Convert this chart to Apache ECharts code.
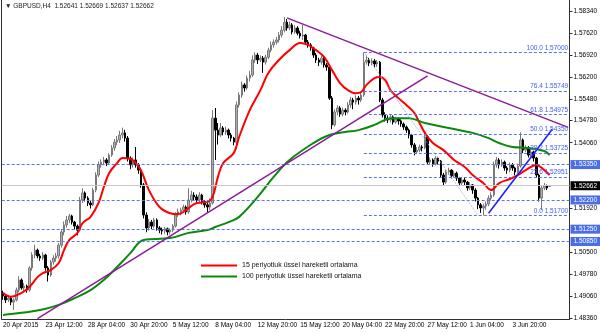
<!DOCTYPE html>
<html><head><meta charset="utf-8">
<script src="https://cdn.jsdelivr.net/npm/echarts@6/dist/echarts.min.js"></script>
<style>html,body{margin:0;padding:0;background:#fff}#c{width:600px;height:333px}</style>
</head><body><div id="c"></div>
<script>
// [open, close, low, high] per H4 bar, from 20 Apr 2015 20:00
const ohlc = [
[1.4915,1.4908,1.4895,1.4925],[1.4908,1.4895,1.4885,1.4912],[1.4895,1.4901,1.4888,1.4910],[1.4901,1.4888,1.4878,1.4905],
[1.4888,1.4895,1.4862,1.4900],[1.4895,1.4927,1.4890,1.4935],[1.4927,1.4960,1.4920,1.4972],[1.4960,1.4934,1.4928,1.4965],
[1.4934,1.4940,1.4925,1.4950],[1.4940,1.4927,1.4918,1.4945],[1.4927,1.4999,1.4922,1.5005],[1.4999,1.5041,1.4990,1.5050],
[1.5041,1.5057,1.5030,1.5075],[1.5057,1.5038,1.5030,1.5062],[1.5038,1.5031,1.5022,1.5045],[1.5031,1.5041,1.5025,1.5050],
[1.5041,1.4999,1.4990,1.5045],[1.4999,1.4976,1.4955,1.5005],[1.4976,1.5018,1.4970,1.5025],[1.5018,1.5031,1.5010,1.5040],
[1.5031,1.5038,1.5020,1.5048],[1.5038,1.5073,1.5030,1.5080],[1.5073,1.5116,1.5065,1.5125],[1.5116,1.5139,1.5105,1.5150],
[1.5139,1.5155,1.5130,1.5168],[1.5155,1.5168,1.5145,1.5175],[1.5168,1.5148,1.5140,1.5172],[1.5148,1.5135,1.5125,1.5152],
[1.5135,1.5122,1.5105,1.5140],[1.5122,1.5220,1.5118,1.5230],[1.5220,1.5243,1.5210,1.5258],[1.5243,1.5226,1.5215,1.5248],
[1.5226,1.5210,1.5200,1.5232],[1.5210,1.5204,1.5192,1.5218],[1.5204,1.5252,1.5200,1.5260],[1.5252,1.5301,1.5245,1.5310],
[1.5301,1.5334,1.5295,1.5345],[1.5334,1.5343,1.5325,1.5352],[1.5343,1.5350,1.5333,1.5360],[1.5350,1.5340,1.5330,1.5356],
[1.5340,1.5366,1.5335,1.5372],[1.5366,1.5389,1.5360,1.5398],[1.5389,1.5408,1.5380,1.5418],[1.5408,1.5415,1.5398,1.5428],
[1.5415,1.5431,1.5405,1.5445],[1.5431,1.5438,1.5420,1.5455],[1.5438,1.5421,1.5410,1.5448],[1.5421,1.5356,1.5345,1.5428],
[1.5356,1.5334,1.5320,1.5362],[1.5334,1.5350,1.5325,1.5358],[1.5350,1.5334,1.5325,1.5392],[1.5334,1.5317,1.5305,1.5340],
[1.5317,1.5269,1.5260,1.5322],[1.5269,1.5171,1.5160,1.5275],[1.5171,1.5129,1.5115,1.5180],[1.5129,1.5148,1.5120,1.5158],
[1.5148,1.5135,1.5125,1.5155],[1.5135,1.5155,1.5128,1.5162],[1.5155,1.5129,1.5120,1.5160],[1.5129,1.5122,1.5112,1.5135],
[1.5122,1.5119,1.5108,1.5130],[1.5119,1.5126,1.5110,1.5132],[1.5126,1.5116,1.5105,1.5130],[1.5116,1.5122,1.5108,1.5128],
[1.5122,1.5135,1.5115,1.5142],[1.5135,1.5171,1.5130,1.5180],[1.5171,1.5181,1.5165,1.5192],[1.5181,1.5187,1.5170,1.5195],
[1.5187,1.5197,1.5180,1.5205],[1.5197,1.5181,1.5172,1.5202],[1.5181,1.5220,1.5175,1.5258],[1.5220,1.5236,1.5212,1.5250],
[1.5236,1.5230,1.5218,1.5245],[1.5230,1.5220,1.5210,1.5238],[1.5220,1.5236,1.5212,1.5245],[1.5236,1.5214,1.5205,1.5240],
[1.5214,1.5204,1.5195,1.5220],[1.5204,1.5197,1.5180,1.5210],[1.5197,1.5210,1.5188,1.5225],[1.5210,1.5486,1.5205,1.5512],
[1.5486,1.5447,1.5350,1.5519],[1.5447,1.5431,1.5400,1.5470],[1.5431,1.5454,1.5425,1.5470],[1.5454,1.5441,1.5430,1.5460],
[1.5441,1.5447,1.5432,1.5458],[1.5447,1.5431,1.5420,1.5452],[1.5431,1.5421,1.5410,1.5438],[1.5421,1.5408,1.5398,1.5425],
[1.5408,1.5529,1.5400,1.5540],[1.5529,1.5561,1.5520,1.5570],[1.5561,1.5594,1.5552,1.5605],[1.5594,1.5584,1.5572,1.5600],
[1.5584,1.5616,1.5578,1.5625],[1.5616,1.5626,1.5605,1.5640],[1.5626,1.5675,1.5620,1.5690],[1.5675,1.5691,1.5665,1.5700],
[1.5691,1.5675,1.5662,1.5698],[1.5675,1.5681,1.5668,1.5690],[1.5681,1.5668,1.5633,1.5688],[1.5668,1.5684,1.5660,1.5692],
[1.5684,1.5707,1.5678,1.5715],[1.5707,1.5724,1.5700,1.5735],[1.5724,1.5733,1.5715,1.5742],[1.5733,1.5740,1.5725,1.5750],
[1.5740,1.5756,1.5732,1.5766],[1.5756,1.5772,1.5748,1.5785],[1.5772,1.5798,1.5765,1.5815],[1.5798,1.5779,1.5770,1.5808],
[1.5779,1.5789,1.5772,1.5800],[1.5789,1.5766,1.5758,1.5795],[1.5766,1.5779,1.5760,1.5788],[1.5779,1.5762,1.5755,1.5785],
[1.5762,1.5753,1.5745,1.5770],[1.5753,1.5756,1.5740,1.5789],[1.5756,1.5733,1.5725,1.5760],[1.5733,1.5724,1.5715,1.5740],
[1.5724,1.5714,1.5705,1.5730],[1.5714,1.5691,1.5682,1.5718],[1.5691,1.5675,1.5665,1.5698],[1.5675,1.5668,1.5655,1.5682],
[1.5668,1.5681,1.5660,1.5690],[1.5681,1.5659,1.5650,1.5686],[1.5659,1.5652,1.5640,1.5665],[1.5652,1.5551,1.5545,1.5658],
[1.5551,1.5464,1.5450,1.5558],[1.5464,1.5506,1.5458,1.5515],[1.5506,1.5519,1.5495,1.5528],[1.5519,1.5499,1.5490,1.5525],
[1.5499,1.5512,1.5492,1.5520],[1.5512,1.5506,1.5495,1.5518],[1.5506,1.5529,1.5500,1.5538],[1.5529,1.5545,1.5520,1.5555],
[1.5545,1.5538,1.5515,1.5552],[1.5538,1.5551,1.5530,1.5560],[1.5551,1.5545,1.5530,1.5558],[1.5545,1.5561,1.5538,1.5568],
[1.5561,1.5668,1.5555,1.5700],[1.5668,1.5675,1.5660,1.5690],[1.5675,1.5665,1.5655,1.5682],[1.5665,1.5672,1.5658,1.5680],
[1.5672,1.5662,1.5650,1.5678],[1.5662,1.5668,1.5652,1.5675],[1.5668,1.5545,1.5538,1.5672],[1.5545,1.5496,1.5488,1.5552],
[1.5496,1.5486,1.5475,1.5505],[1.5486,1.5480,1.5470,1.5495],[1.5480,1.5490,1.5472,1.5498],[1.5490,1.5473,1.5465,1.5495],
[1.5473,1.5483,1.5468,1.5490],[1.5483,1.5477,1.5465,1.5488],[1.5477,1.5467,1.5458,1.5482],[1.5467,1.5457,1.5448,1.5472],
[1.5457,1.5447,1.5438,1.5462],[1.5447,1.5431,1.5420,1.5452],[1.5431,1.5399,1.5390,1.5435],[1.5399,1.5376,1.5365,1.5405],
[1.5376,1.5382,1.5370,1.5392],[1.5382,1.5392,1.5375,1.5400],[1.5392,1.5389,1.5378,1.5398],[1.5389,1.5425,1.5385,1.5440],
[1.5425,1.5343,1.5335,1.5430],[1.5343,1.5350,1.5335,1.5358],[1.5350,1.5337,1.5328,1.5355],[1.5337,1.5356,1.5332,1.5362],
[1.5356,1.5346,1.5335,1.5360],[1.5346,1.5301,1.5292,1.5350],[1.5301,1.5278,1.5265,1.5308],[1.5278,1.5311,1.5272,1.5318],
[1.5311,1.5317,1.5302,1.5325],[1.5317,1.5298,1.5290,1.5320],[1.5298,1.5307,1.5292,1.5315],[1.5307,1.5291,1.5282,1.5312],
[1.5291,1.5275,1.5265,1.5295],[1.5275,1.5285,1.5268,1.5295],[1.5285,1.5278,1.5268,1.5292],[1.5278,1.5259,1.5250,1.5282],
[1.5259,1.5269,1.5252,1.5278],[1.5269,1.5252,1.5240,1.5272],[1.5252,1.5226,1.5215,1.5258],[1.5226,1.5204,1.5190,1.5230],
[1.5204,1.5194,1.5178,1.5210],[1.5194,1.5200,1.5170,1.5208],[1.5200,1.5207,1.5188,1.5215],[1.5207,1.5226,1.5200,1.5235],
[1.5226,1.5236,1.5218,1.5245],[1.5236,1.5334,1.5230,1.5345],[1.5334,1.5350,1.5325,1.5360],[1.5350,1.5334,1.5322,1.5356],
[1.5334,1.5343,1.5328,1.5352],[1.5343,1.5324,1.5315,1.5348],[1.5324,1.5317,1.5305,1.5330],[1.5317,1.5334,1.5310,1.5342],
[1.5334,1.5324,1.5315,1.5340],[1.5324,1.5311,1.5300,1.5328],[1.5311,1.5330,1.5305,1.5338],[1.5330,1.5415,1.5325,1.5440],
[1.5415,1.5382,1.5372,1.5420],[1.5382,1.5389,1.5375,1.5398],[1.5389,1.5366,1.5358,1.5395],[1.5366,1.5376,1.5360,1.5385],
[1.5376,1.5356,1.5345,1.5380],[1.5356,1.5301,1.5292,1.5360],[1.5301,1.5226,1.5215,1.5305],[1.5226,1.5259,1.5187,1.5268],
[1.5259,1.5266,1.5252,1.5275],[1.5266,1.5259,1.5252,1.5270],[1.52641,1.52662,1.52637,1.52669]
];
// EMA readings [bar, value]
const ema15 = [[0,1.4918],[3,1.4905],[7,1.4918],[10,1.4937],[13,1.4969],[15,1.4982],[18,1.4992],[21,1.5015],[23,1.5057],[25,1.5090],[28,1.5112],[30,1.5145],[33,1.5165],[36,1.5210],[38,1.5262],[40,1.5307],[43,1.5340],[45,1.5356],[48,1.5353],[50,1.5340],[52,1.5317],[55,1.5252],[59,1.5197],[63,1.5177],[66,1.5174],[69,1.5187],[73,1.5210],[77,1.5213],[79,1.5230],[81,1.5295],[83,1.5340],[87,1.5373],[89,1.5425],[93,1.5512],[97,1.5577],[100,1.5633],[104,1.5675],[108,1.5707],[112,1.5730],[115,1.5724],[118,1.5707],[121,1.5685],[124,1.5642],[127,1.5600],[130,1.5577],[133,1.5567],[135,1.5571],[137,1.5594],[140,1.5616],[142,1.5620],[144,1.5610],[146,1.5577],[149,1.5551],[152,1.5529],[155,1.5503],[157,1.5470],[159,1.5438],[162,1.5405],[166,1.5382],[170,1.5350],[174,1.5327],[177,1.5301],[181,1.5275],[184,1.5252],[187,1.5275],[191,1.5288],[194,1.5301],[197,1.5317],[201,1.5334],[204,1.5317],[206,1.5301]];
const ema100 = [[0,1.4846],[7,1.4853],[14,1.4862],[21,1.4879],[27,1.4901],[33,1.4927],[38,1.4960],[43,1.5002],[48,1.5047],[53,1.5090],[63,1.5096],[70,1.5113],[77,1.5122],[80,1.5132],[85,1.5148],[89,1.5165],[96,1.5230],[102,1.5295],[108,1.5350],[117,1.5405],[123,1.5431],[129,1.5441],[134,1.5447],[140,1.5464],[144,1.5480],[147,1.5486],[153,1.5486],[159,1.5470],[168,1.5454],[177,1.5438],[183,1.5421],[187,1.5405],[192,1.5392],[198,1.5389],[204,1.5379],[206,1.5366]];
const xTickLabels = ['20 Apr 2015','23 Apr 12:00','28 Apr 04:00','30 Apr 20:00','5 May 12:00','8 May 04:00','12 May 20:00','15 May 12:00','20 May 04:00','22 May 20:00','27 May 12:00','1 Jun 04:00','3 Jun 20:00'];
const yTickValues = [1.48360,1.49060,1.49780,1.50500,1.51920,1.54060,1.54780,1.55480,1.56200,1.56920,1.57620,1.58340];
const levels = [1.53350,1.52200,1.51250,1.50850];
const lastPrice = 1.52662;
const fibRatios = ['100.0','76.4','61.8','50.0','38.2','23.6','0.0'];
const fibPrices = [1.57000,1.55749,1.54975,1.54350,1.53725,1.52951,1.51700];
const fibAnchors = [[136,1.5700],[179,1.5170]];
const upperTrend = [[107,1.5812],[213,1.5456]];
const lowerTrend = [[12.8,1.4834],[159.7,1.5623]];
const blueTrend = [[183,1.5177],[207,1.5450]];
const seriesNames = ['15 periyotluk üssel hareketli ortalama','100 periyotluk üssel hareketli ortalama'];
const totalSlots = 214;

const cats = []; for (let i = 0; i < totalSlots; i++) cats.push(i);
const F = 'Tahoma, "Liberation Sans Narrow", "Liberation Sans", sans-serif';
const FS = 6.5;
const tickIdx = i => i % 16 === 0 && i / 16 < xTickLabels.length;

const mk = [];
levels.forEach(v => mk.push({yAxis: v, lineStyle:{color:'#5b73ee', type:[3,2], width:1},
  label:{show:true, position:'end', distance:1, formatter: v.toFixed(5), backgroundColor:'#4a6ee6', color:'#fff', padding:[1,3,1,3], fontSize:FS, fontFamily:F}}));
mk.push({yAxis: lastPrice, lineStyle:{color:'#c8c8c8', type:'solid', width:1},
  label:{show:true, position:'end', distance:1, formatter: lastPrice.toFixed(5), backgroundColor:'#000', color:'#fff', padding:[1,3,1,3], fontSize:FS, fontFamily:F}});
fibPrices.forEach((v, k) => mk.push([
  {coord:[fibAnchors[0][0], v], lineStyle:{color:'#5b73ee', type:[3,2], width:1},
   label:{show:true, position:'insideEndTop', distance:[0,1], formatter: fibRatios[k] + ' ' + v.toFixed(5), color:'#3f5cf5', fontSize:FS, fontFamily:F}},
  {coord:[213, v]}]));
mk.push([{coord:fibAnchors[0], lineStyle:{color:'#9aaad8', type:'dotted', width:1}}, {coord:fibAnchors[1]}]);
mk.push([{coord:upperTrend[0], lineStyle:{color:'#8b1a9a', type:'solid', width:1.5}}, {coord:upperTrend[1]}]);
mk.push([{coord:lowerTrend[0], lineStyle:{color:'#8b1a9a', type:'solid', width:1.5}}, {coord:lowerTrend[1]}]);
mk.push([{coord:blueTrend[0], lineStyle:{color:'#1a1aff', type:'solid', width:1.5}}, {coord:blueTrend[1]}]);

const chart = echarts.init(document.getElementById('c'), null, {renderer:'canvas'});
chart.setOption({
  animation:false,
  backgroundColor:'#fff',
  title:{text:'▼ GBPUSD,H4  1.52641 1.52669 1.52637 1.52662', left:3, top:2,
    textStyle:{fontSize:FS, fontWeight:'normal', color:'#222', fontFamily:F}, backgroundColor:'#fff', padding:[1,2]},
  legend:{data:seriesNames, orient:'vertical', left:196, top:257, itemWidth:36, itemHeight:2, itemGap:4, icon:'rect',
    textStyle:{fontSize:7, color:'#111', fontFamily:F}},
  grid:{left:1, right:28, top:0, bottom:14},
  xAxis:{type:'category', data:cats, boundaryGap:true,
    axisLine:{lineStyle:{color:'#303030', width:1}},
    axisTick:{interval:(i)=>tickIdx(i), length:3, alignWithLabel:true, lineStyle:{color:'#303030'}},
    axisLabel:{interval:(i)=>tickIdx(i), formatter:(v,i)=>xTickLabels[i/16] || '', align:'left', margin:3, fontSize:FS, color:'#000', fontFamily:F},
    splitLine:{show:false}},
  yAxis:[{type:'value', position:'right', min:1.4833, max:1.5870, scale:true,
    axisLine:{show:true, lineStyle:{color:'#303030'}},
    axisTick:{show:true, length:3, customValues:yTickValues, lineStyle:{color:'#303030'}},
    axisLabel:{customValues:yTickValues, formatter:v=>v.toFixed(5), fontSize:FS, color:'#000', margin:4, fontFamily:F},
    splitLine:{show:false}},
    {type:'value', position:'left', min:1.4833, max:1.5870, axisLine:{show:true, lineStyle:{color:'#303030'}},
     axisTick:{show:false}, axisLabel:{show:false}, splitLine:{show:false}}],
  series:[
    {type:'candlestick', data:ohlc, barWidth:2,
     itemStyle:{color:'#b0b0b0', borderColor:'#7a7a7a', color0:'#000', borderColor0:'#000', borderWidth:1},
     markLine:{silent:true, symbol:['none','none'], animation:false, precision:5, data:mk}},
    {type:'line', name:seriesNames[0], data:ema15, smooth:0.4, showSymbol:false, connectNulls:true,
     lineStyle:{color:'#ff0000', width:2}, itemStyle:{color:'#ff0000'}, z:3},
    {type:'line', name:seriesNames[1], data:ema100, smooth:0.4, showSymbol:false, connectNulls:true,
     lineStyle:{color:'#0a8a0a', width:2}, itemStyle:{color:'#0a8a0a'}, z:3}
  ]
});
</script></body></html>
